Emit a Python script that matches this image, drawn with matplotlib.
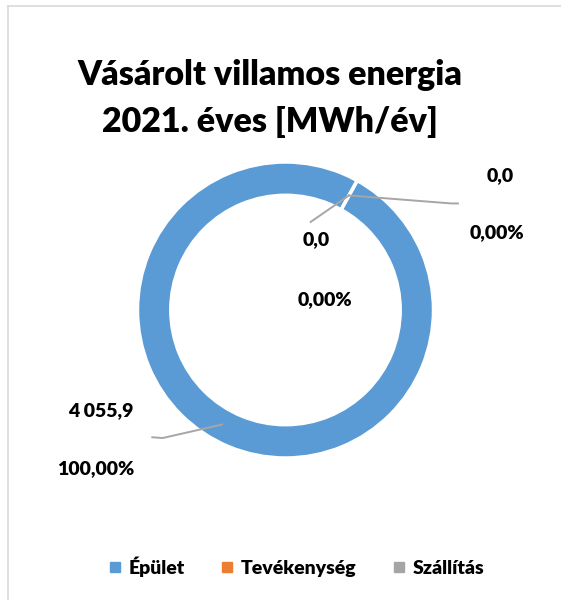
import numpy as np
import matplotlib.pyplot as plt
from matplotlib.lines import Line2D

plt.rcParams['font.family'] = ['Lato', 'DejaVu Sans']

# data
categories = ['Épület', 'Tevékenység', 'Szállítás']
values = [4055.9, 0.0, 0.0]
value_labels = ['4 055,9', '0,0', '0,0']
pct_labels = ['100,00%', '0,00%', '0,00%']
colors = ['#5B9BD5', '#ED7D31', '#A5A5A5']

W, H = 561, 600
fig = plt.figure(figsize=(W / 100, H / 100), dpi=100)

# chart border: only top and left edges visible
fig.add_artist(Line2D([8 / W, 1.0], [1 - 6 / H, 1 - 6 / H], transform=fig.transFigure,
                      color='#D9D9D9', linewidth=1.2))
fig.add_artist(Line2D([8 / W, 8 / W], [0.0, 1 - 6 / H], transform=fig.transFigure,
                      color='#D9D9D9', linewidth=1.2))

# donut axes: centre (285.5, 310) px, radius 148 px
cx, cy, R = 285.5, 310, 148
ax = fig.add_axes([(cx - R) / W, (H - cy - R) / H, 2 * R / W, 2 * R / H])

start = 61
wedges, _ = ax.pie(values, colors=colors, startangle=start, counterclock=False,
                   radius=1.0, wedgeprops=dict(width=0.225, edgecolor='white', linewidth=2.5))
ax.set_xlim(-1, 1)
ax.set_ylim(-1, 1)
ax.set_aspect('equal')
ax.axis('off')

# leader line anchor angles (mid-ring, mid-slice)
total = sum(values)
ang = start
anchors = []
for v in values:
    sweep = 360 * v / total
    mid = np.deg2rad(ang - sweep / 2)
    anchors.append((0.885 * np.cos(mid), 0.885 * np.sin(mid)))
    ang -= sweep

# label positions and leader line paths (data units, radius = 1)
label_pos = [(-1.25, -0.68, -1.28, -1.07), (1.45, 0.905, 1.43, 0.52), (0.21, 0.473, 0.265, 0.068)]
leader_ends = [[(-0.83, -0.865), (-0.9, -0.86)], [(1.12, 0.72), (1.165, 0.72)], [(0.17, 0.595)]]

lc = '#A6A6A6'
for i in range(3):
    xs = [anchors[i][0]] + [p[0] for p in leader_ends[i]]
    ys = [anchors[i][1]] + [p[1] for p in leader_ends[i]]
    ax.add_line(Line2D(xs, ys, color=lc, linewidth=1.4, clip_on=False))
    vx, vy, px, py = label_pos[i]
    ax.text(vx, vy, value_labels[i], ha='center', va='center', fontsize=14, fontweight='heavy')
    ax.text(px, py, pct_labels[i], ha='center', va='center', fontsize=14, fontweight='heavy')

fig.text(270 / W, 1 - 75 / H, 'Vásárolt villamos energia', ha='center', va='center',
         fontsize=24.5, fontweight='heavy')
fig.text(270 / W, 1 - 122 / H, '2021. éves [MWh/év]', ha='center', va='center',
         fontsize=24.5, fontweight='heavy')

handles = [Line2D([], [], marker='s', linestyle='none', markersize=7, color=c) for c in colors]
fig.legend(handles, categories, loc='center', bbox_to_anchor=(0.527, 1 - 567 / H), ncol=3,
           frameon=False, prop=dict(size=14, weight='heavy'), handletextpad=0.3,
           columnspacing=1.8, handlelength=0.8)

fig.savefig('out.png', dpi=100, facecolor='white')
